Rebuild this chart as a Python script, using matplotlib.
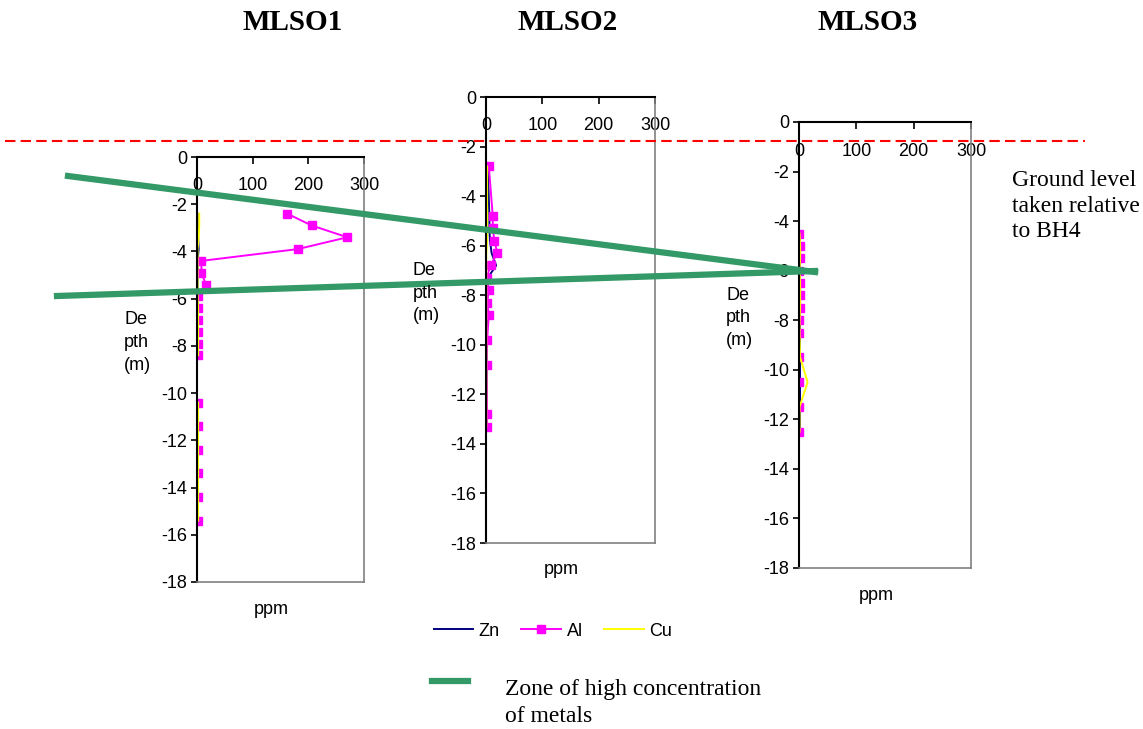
import matplotlib.pyplot as plt
import numpy as np
from matplotlib.lines import Line2D

nan = np.nan

# MLSO1 profile (depth in m, concentrations in ppm); nan = no sample
depth1 = [-2.4, -2.9, -3.4, -3.9, -4.4, -4.9, -5.4, -5.9, -6.4, -6.9, -7.4, -7.9, -8.4,
          -9.4, -10.4, -11.4, -12.4, -13.4, -14.4, -15.4]
zn1 = [1, 1, 2, 3, 1, 1, 1, 1, 1, 1, 1, 1, 1, nan, 1, 1, 1, 1, 1, 1]
al1 = [162, 206, 270, 181, 8, 8, 16, 1, 1, 1, 1, 1, 1, nan, 1, 1, 1, 1, 1, 1]
cu1 = [4, 4, 3, 1, 1, 1, 1, 1, 2, 2, 2, 2, 2, nan, 2, 2, 2, 2, 2, 2]

# MLSO2 profile
depth2 = [-2.8, -4.8, -5.3, -5.8, -6.3, -6.8, -7.3, -7.8, -8.3, -8.8, -9.8, -10.8, -12.8, -13.3]
zn2 = [3, 6, 6, 7, 10, 18, 3, 2, 2, 2, 1, 1, 1, 1]
al2 = [5, 12, 12, 15, 20, 8, 1, 5, 2, 5, 2, 1, 2, 1]
cu2 = [2, 2, 2, 2, 0.5, 0.5, 0.5, 0.5, 0.5, 0.5, 0.5, 0.5, 0.5, 0.5]

# MLSO3 profile
depth3 = [-4.5, -5.0, -5.5, -6.0, -6.5, -7.0, -7.5, -8.0, -8.5, -9.5, -10.5, -11.5, -12.5]
zn3 = [1, 1, 1, 1, 1, 1, 1, 1, 1, 1, 1, 1, 1]
al3 = [0, 2, 2, 0, 2, 2, 2, 0, 0, 0, 0, 0, 0]
cu3 = [1, 2, 2, 1, 2, 2, 2, 1, 1, 2, 15, 1, 1]

titles = ['MLSO1', 'MLSO2', 'MLSO3']
yticks = np.arange(-18, 1, 2)
xticks = [0, 100, 200, 300]

ZN, AL, CU = '#000080', '#ff00ff', '#ffff00'
GREEN = '#339966'
W, H = 1143, 729

plt.rcParams['font.family'] = ['Liberation Sans', 'DejaVu Sans']
fig = plt.figure(figsize=(W / 100, H / 100), dpi=100)


def fx(px):
    return px / W


def fy(py):
    return 1 - py / H


# axes boxes in pixels: left, top, right, bottom
boxes = [(197, 157, 364, 582), (486, 97, 655, 543), (799, 122, 971, 568)]
profiles = [(depth1, zn1, al1, cu1), (depth2, zn2, al2, cu2), (depth3, zn3, al3, cu3)]
title_x = [293, 568, 868]

for (l, t, r, b), (d, zn, al, cu), title, tx in zip(boxes, profiles, titles, title_x):
    ax = fig.add_axes([fx(l), fy(b), fx(r - l), (b - t) / H])
    ax.plot(zn, d, color=ZN, lw=1.4)
    ax.plot(al, d, color=AL, lw=1.4, marker='s', ms=6, mfc=AL, mec=AL)
    ax.plot(cu, d, color=CU, lw=1.4)
    ax.set_xlim(0, 300)
    ax.set_ylim(-18, 0)
    ax.set_yticks(yticks)
    ax.set_yticklabels([str(v) for v in yticks])
    ax.set_xticks(xticks)
    ax.xaxis.tick_top()
    ax.tick_params(axis='x', direction='in', length=5, width=1.2, pad=-27,
                   labelsize=13, top=True, bottom=False)
    ax.tick_params(axis='y', direction='out', length=4, width=1.2, pad=3, labelsize=13)
    for s in ('left', 'top'):
        ax.spines[s].set_color('black')
        ax.spines[s].set_linewidth(1.5)
    for s in ('right', 'bottom'):
        ax.spines[s].set_color('#808080')
        ax.spines[s].set_linewidth(1.2)
    ax.patch.set_alpha(0)
    fig.text(fx(l - 73), fy((t + b) / 2 - 27), 'De\npth\n(m)', fontsize=13,
             ha='left', va='center', linespacing=1.45)
    fig.text(fx((l + r) / 2 - 9), fy(b + 27), 'ppm', fontsize=13, ha='center', va='center')
    fig.text(fx(tx), fy(23), title, fontsize=21, fontweight='bold',
             family='Liberation Serif', ha='center', va='center')

# ground level reference line
fig.add_artist(Line2D([fx(5), fx(1085)], [fy(141), fy(141)], color='red', lw=1.5,
                      ls=(0, (5, 2.5))))
fig.text(fx(1012), fy(206), 'Ground level\ntaken relative\nto BH4', family='Liberation Serif',
         fontsize=17, ha='left', va='center', linespacing=1.3)

# zone of high metal concentration
fig.add_artist(Line2D([fx(68), fx(815)], [fy(176), fy(272)], color=GREEN, lw=4.5))
fig.add_artist(Line2D([fx(57), fx(815)], [fy(296), fy(271)], color=GREEN, lw=4.5))

handles = [Line2D([], [], color=ZN, lw=1.4),
           Line2D([], [], color=AL, lw=1.4, marker='s', ms=6),
           Line2D([], [], color=CU, lw=1.4)]
fig.legend(handles, ['Zn', 'Al', 'Cu'], ncol=3, frameon=False, loc='center',
           bbox_to_anchor=(fx(553), fy(631)), fontsize=13, handlelength=2.2,
           handletextpad=0.3, columnspacing=1.2)

fig.add_artist(Line2D([fx(432), fx(468)], [fy(681), fy(681)], color=GREEN, lw=4.5))
fig.text(fx(505), fy(703), 'Zone of high concentration\nof metals', family='Liberation Serif',
         fontsize=17, ha='left', va='center', linespacing=1.4)

fig.savefig('out.png', dpi=100)
